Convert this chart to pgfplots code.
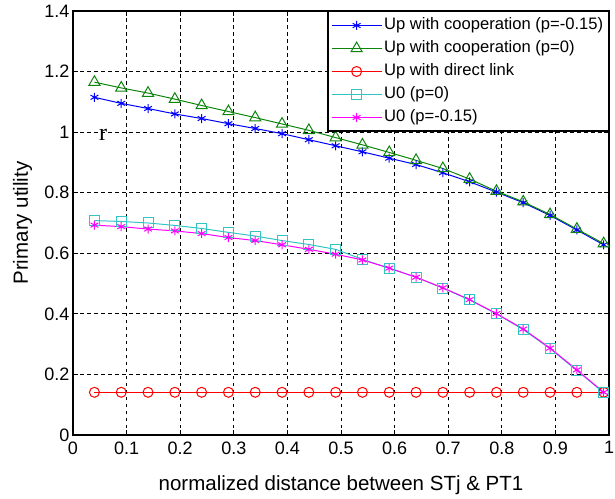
\documentclass[border=0pt]{standalone}
\usepackage{pgfplots}
\pgfplotsset{compat=1.18}
\usepackage{fontspec}
\setmainfont{Liberation Sans}
\newfontfamily\serifr{Liberation Serif}

\definecolor{mblue}{rgb}{0,0,1}
\definecolor{mgreen}{rgb}{0.05,0.52,0.05}
\definecolor{mred}{rgb}{1,0,0}
\definecolor{mcyan}{rgb}{0.2,0.77,0.77}
\definecolor{mmag}{rgb}{1,0,1}

\begin{document}
\begin{tikzpicture}[x=1pt,y=1pt]
\begin{axis}[
  at={(73pt,63pt)}, anchor=south west,
  scale only axis, width=536pt, height=424pt,
  xmin=0, xmax=1, ymin=0, ymax=1.4,
  xtick={0,0.1,0.2,0.3,0.4,0.5,0.6,0.7,0.8,0.9,1},
  ytick={0,0.2,0.4,0.6,0.8,1,1.2,1.4},
  /pgf/number format/assume math mode=true,
  tick label style={font=\fontsize{18}{20}\selectfont, black},
  xticklabel style={yshift=-3pt},
  tick align=inside, major tick length=5pt,
  tick style={black, line width=0.8pt},
  axis line style={line width=1.8pt, black},
  grid=major,
  major grid style={black, line width=0.9pt, dash pattern=on 3.5pt off 3.5pt},
  every axis x label/.style={at={(axis description cs:0.5,0)}, anchor=base, yshift=-55pt,
    font=\fontsize{20.5}{22}\selectfont},
  every axis y label/.style={at={(axis description cs:0,0.5)}, rotate=90, anchor=base, yshift=45pt,
    font=\fontsize{20.5}{22}\selectfont},
  xlabel={normalized distance between STj \& PT1},
  ylabel={Primary utility},
  legend cell align=left,
  legend style={at={(axis description cs:1,1)}, anchor=north east,
    draw=black, line width=1.5pt, fill=white,
    font=\fontsize{16.6}{19}\selectfont,
    inner xsep=3pt, inner ysep=3pt, row sep=1.5pt,
    nodes={inner sep=2pt, text height=13pt, text depth=4.5pt}},
  legend image code/.code={%
    \draw[mark repeat=2, mark phase=2, line width=1pt]
      plot coordinates {(0pt,0pt) (25pt,0pt) (50pt,0pt)};},
  every axis plot/.append style={line width=1pt},
]
% cooperative relaying, p = -0.15
\addplot[mblue, mark=asterisk, mark size=4.5pt, mark options={solid, line width=1pt}] coordinates {
 (0.04,1.115) (0.09,1.095) (0.14,1.078) (0.19,1.060) (0.24,1.045)
 (0.29,1.028) (0.34,1.012) (0.39,0.995) (0.44,0.975) (0.49,0.955)
 (0.54,0.935) (0.59,0.914) (0.64,0.893) (0.69,0.866) (0.74,0.836)
 (0.79,0.802) (0.84,0.767) (0.89,0.725) (0.94,0.677) (0.99,0.628)};
\addlegendentry{Up with cooperation (p=-0.15)}
% cooperative relaying, p = 0
\addplot[mgreen, mark=triangle, mark size=6.4pt, mark options={solid, line width=1pt}] coordinates {
 (0.04,1.165) (0.09,1.146) (0.14,1.129) (0.19,1.109) (0.24,1.088)
 (0.29,1.068) (0.34,1.048) (0.39,1.027) (0.44,1.006) (0.49,0.982)
 (0.54,0.958) (0.59,0.933) (0.64,0.907) (0.69,0.880) (0.74,0.845)
 (0.79,0.805) (0.84,0.770) (0.89,0.728) (0.94,0.680) (0.99,0.632)};
\addlegendentry{Up with cooperation (p=0)}
% direct link only
\addplot[mred, mark=o, mark size=5pt, mark options={solid, line width=1pt}] coordinates {
 (0.04,0.141) (0.09,0.141) (0.14,0.141) (0.19,0.141) (0.24,0.141)
 (0.29,0.141) (0.34,0.141) (0.39,0.141) (0.44,0.141) (0.49,0.141)
 (0.54,0.141) (0.59,0.141) (0.64,0.141) (0.69,0.141) (0.74,0.141)
 (0.79,0.141) (0.84,0.141) (0.89,0.141) (0.94,0.141) (0.99,0.141)};
\addlegendentry{Up with direct link}
% U0, p = 0
\addplot[mcyan, mark=square, mark size=5pt, mark options={solid, line width=1pt}] coordinates {
 (0.04,0.708) (0.09,0.705) (0.14,0.700) (0.19,0.692) (0.24,0.682)
 (0.29,0.669) (0.34,0.657) (0.39,0.642) (0.44,0.629) (0.49,0.613)
 (0.54,0.580) (0.59,0.551) (0.64,0.521) (0.69,0.485) (0.74,0.446)
 (0.79,0.400) (0.84,0.348) (0.89,0.285) (0.94,0.213) (0.99,0.140)};
\addlegendentry{U0 (p=0)}
% U0, p = -0.15
\addplot[mmag, mark=asterisk, mark size=4.5pt, mark options={solid, line width=1pt}] coordinates {
 (0.04,0.693) (0.09,0.688) (0.14,0.680) (0.19,0.674) (0.24,0.665)
 (0.29,0.652) (0.34,0.642) (0.39,0.628) (0.44,0.613) (0.49,0.597)
 (0.54,0.578) (0.59,0.551) (0.64,0.521) (0.69,0.486) (0.74,0.447)
 (0.79,0.401) (0.84,0.350) (0.89,0.287) (0.94,0.215) (0.99,0.141)};
\addlegendentry{U0 (p=-0.15)}
\node[font=\serifr\fontsize{24}{24}\selectfont, inner sep=0pt] at (axis cs:0.056,0.99) {r};
\end{axis}
\pgfresetboundingbox
\path[use as bounding box] (0,0) rectangle (615,498);
\end{tikzpicture}
\end{document}
